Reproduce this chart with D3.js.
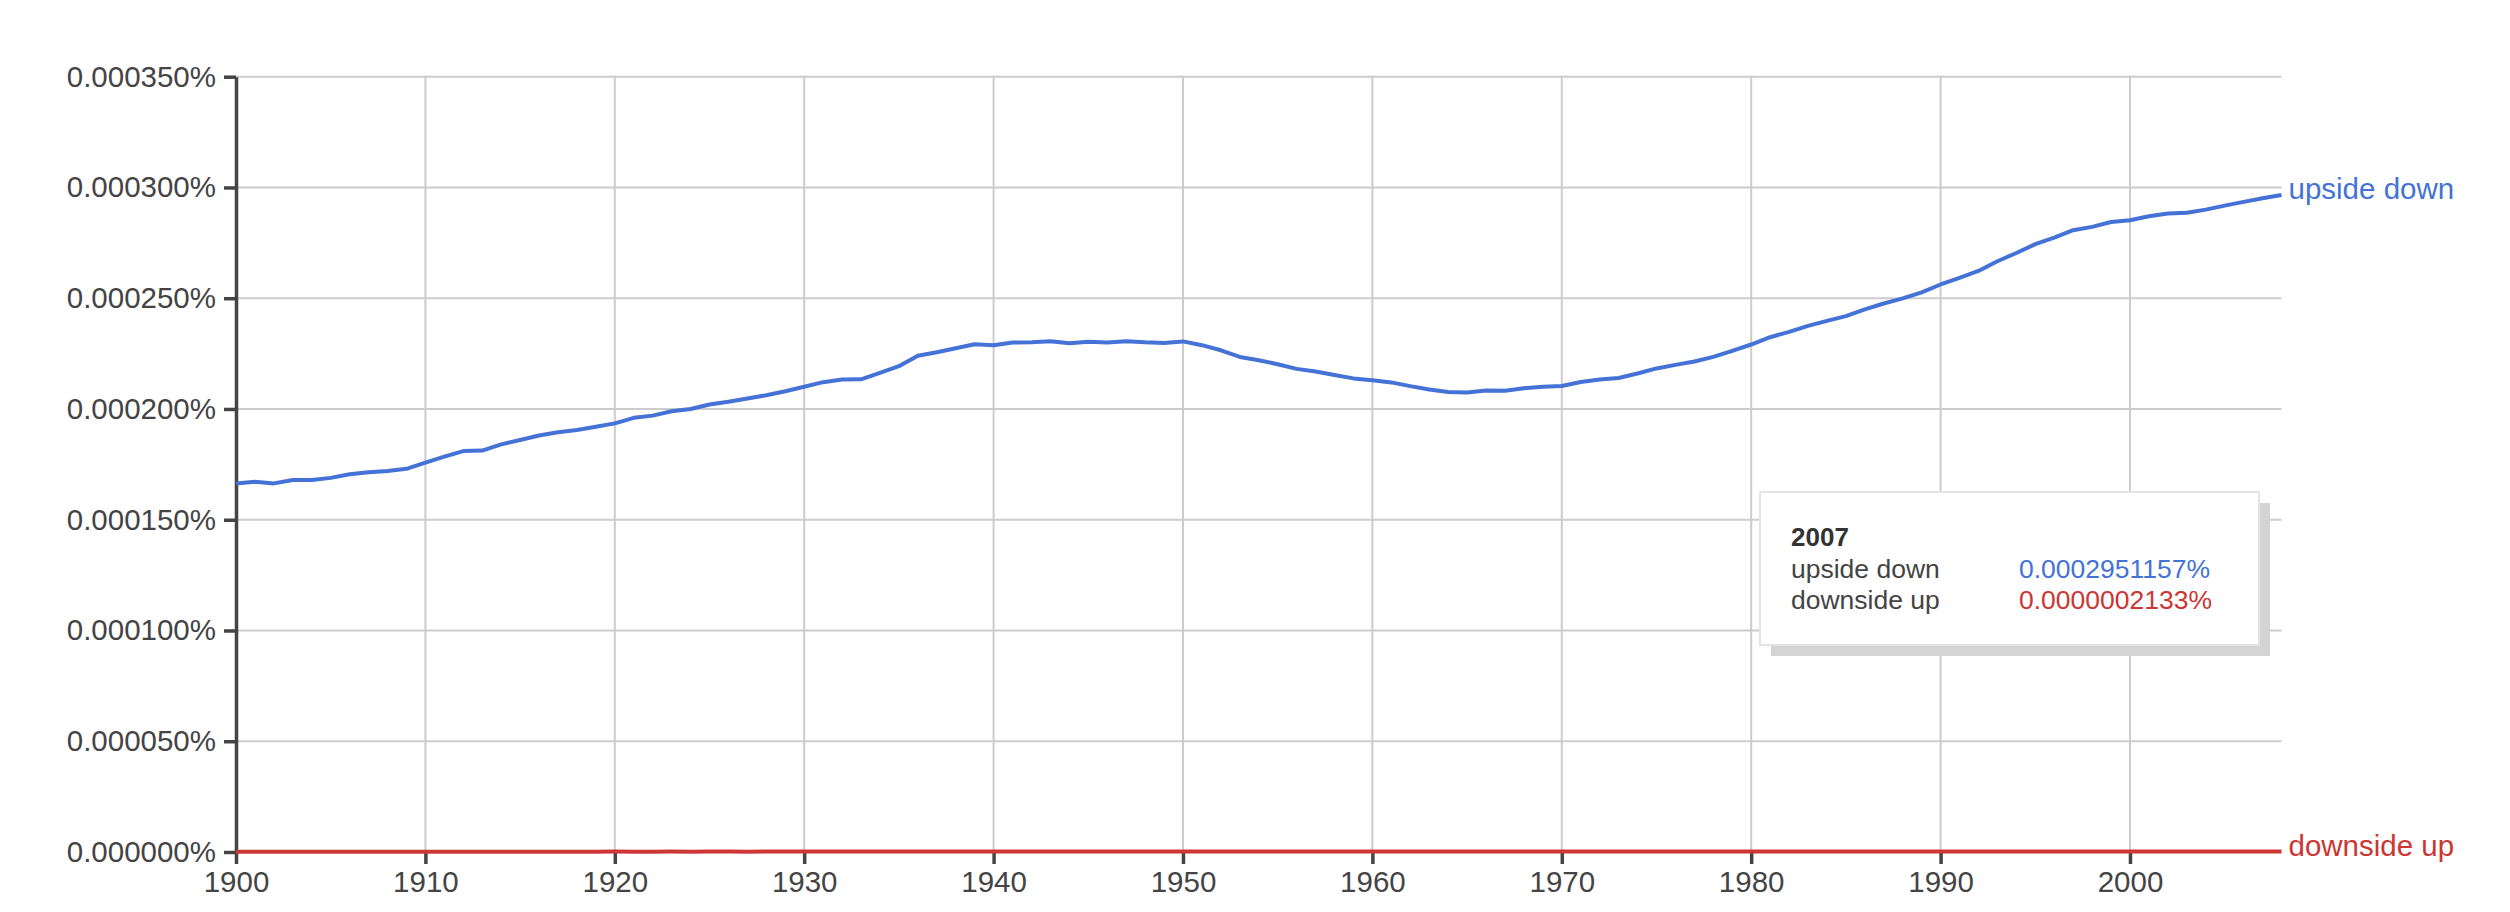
<!DOCTYPE html>
<html>
<head>
	<meta charset="utf-8">
	<title>upside down / downside up</title>
	<script src="https://d3js.org/d3.v7.min.js"></script>
	<style>
		body { margin: 0; background: #fff; }
		text { font-family: Arial, "Liberation Sans", sans-serif; }
	</style>
</head>
<body>
	<script>
		// years on the x axis
		var years = d3.range(1900, 2009);
		var xTicks = [1900, 1910, 1920, 1930, 1940, 1950, 1960, 1970, 1980, 1990, 2000];
		var yTicks = [0, 0.00005, 0.0001, 0.00015, 0.0002, 0.00025, 0.0003, 0.00035];

		// frequency in percent, one value per year 1900..2008
		var upsideDown = [
			0.0001664, 0.0001671, 0.0001664, 0.0001679, 0.0001679, 0.0001689, 0.0001705, 0.0001714, 0.0001720, 0.0001730,
			0.0001758, 0.0001785, 0.0001810, 0.0001812, 0.0001840, 0.0001860, 0.0001880, 0.0001895, 0.0001905, 0.0001920,
			0.0001935, 0.0001960, 0.0001970, 0.0001990, 0.0002000, 0.0002020, 0.0002033, 0.0002047, 0.0002062, 0.0002080,
			0.0002100, 0.0002121, 0.0002133, 0.0002134, 0.0002163, 0.0002193, 0.0002240, 0.0002256, 0.0002274, 0.0002292,
			0.0002288, 0.0002300, 0.0002301, 0.0002306, 0.0002297, 0.0002303, 0.0002300, 0.0002306, 0.0002301, 0.0002298,
			0.0002305, 0.0002288, 0.0002265, 0.0002235, 0.0002220, 0.0002202, 0.0002181, 0.0002169, 0.0002153, 0.0002138,
			0.0002130, 0.0002120, 0.0002103, 0.0002088, 0.0002077, 0.0002074, 0.0002083, 0.0002082, 0.0002094, 0.0002100,
			0.0002104, 0.0002122, 0.0002133, 0.0002140, 0.0002160, 0.0002183, 0.0002199, 0.0002214, 0.0002235, 0.0002262,
			0.0002291, 0.0002324, 0.0002348, 0.0002375, 0.0002398, 0.0002419, 0.0002450, 0.0002476, 0.0002499, 0.0002526,
			0.0002562, 0.0002592, 0.0002623, 0.0002667, 0.0002704, 0.0002744, 0.0002774, 0.0002807, 0.0002822, 0.0002844,
			0.0002852, 0.0002870, 0.0002882, 0.0002886, 0.0002900, 0.0002918, 0.0002935, 0.0002951157, 0.0002966
		];
		var downsideUp = [
			0.00000012, 0.00000011, 0.00000013, 0.00000012, 0.00000014, 0.00000013, 0.00000012, 0.00000014, 0.00000015, 0.00000013,
			0.00000014, 0.00000015, 0.00000013, 0.00000014, 0.00000016, 0.00000015, 0.00000014, 0.00000016, 0.00000015, 0.00000016,
			0.00000017, 0.00000015, 0.00000016, 0.00000017, 0.00000016, 0.00000018, 0.00000017, 0.00000016, 0.00000018, 0.00000017,
			0.00000018, 0.00000017, 0.00000019, 0.00000018, 0.00000017, 0.00000018, 0.00000019, 0.00000018, 0.00000017, 0.00000019,
			0.00000018, 0.00000017, 0.00000018, 0.00000019, 0.00000018, 0.00000017, 0.00000018, 0.00000019, 0.00000018, 0.00000019,
			0.00000018, 0.00000019, 0.00000018, 0.00000017, 0.00000018, 0.00000019, 0.00000018, 0.00000019, 0.00000020, 0.00000019,
			0.00000018, 0.00000019, 0.00000020, 0.00000019, 0.00000018, 0.00000019, 0.00000020, 0.00000019, 0.00000020, 0.00000019,
			0.00000020, 0.00000019, 0.00000020, 0.00000021, 0.00000020, 0.00000019, 0.00000020, 0.00000021, 0.00000020, 0.00000021,
			0.00000020, 0.00000021, 0.00000020, 0.00000021, 0.00000022, 0.00000021, 0.00000020, 0.00000021, 0.00000022, 0.00000021,
			0.00000022, 0.00000021, 0.00000022, 0.00000021, 0.00000022, 0.00000023, 0.00000022, 0.00000021, 0.00000022, 0.00000021,
			0.00000022, 0.00000021, 0.00000022, 0.00000021, 0.00000022, 0.00000021, 0.00000022, 0.0000002133, 0.00000021
		];

		var seriesNames = ["upside down", "downside up"];
		var colors = ["#4472d6", "#cc3633"];
		var hoverYear = 2007;

		var width = 2510, height = 912;
		var svg = d3.select("body").append("svg").attr("width", width).attr("height", height);

		var x = d3.scaleLinear().domain([1900, 2008]).range([236, 2281.5]);
		var y = d3.scaleLinear().domain([0, 0.00035]).range([852, 76.7]);

		// grid
		svg.append("g").selectAll("line.h")
			.data(yTicks).enter().append("line")
			.attr("x1", x(1900)).attr("x2", x(2008))
			.attr("y1", function(d){return y(d);}).attr("y2", function(d){return y(d);})
			.attr("stroke", "#cccccc").attr("stroke-width", 2);
		svg.append("g").selectAll("line.v")
			.data(xTicks.slice(1)).enter().append("line")
			.attr("x1", function(d){return x(d);}).attr("x2", function(d){return x(d);})
			.attr("y1", y(0.00035)).attr("y2", y(0))
			.attr("stroke", "#cccccc").attr("stroke-width", 2);

		// axes
		var yAxis = svg.append("g").attr("transform", "translate(" + x(1900) + ",0)")
			.call(d3.axisLeft(y).tickValues(yTicks).tickSize(12).tickSizeOuter(0).tickPadding(8)
				.tickFormat(function(d){return d.toFixed(6) + "%";}));
		var xAxis = svg.append("g").attr("transform", "translate(0," + y(0) + ")")
			.call(d3.axisBottom(x).tickValues(xTicks).tickSize(12).tickSizeOuter(0).tickPadding(7)
				.tickFormat(function(d){return d;}));
		xAxis.select(".domain").remove();
		[yAxis, xAxis].forEach(function(a){
			a.select(".domain").attr("stroke", "#444").attr("stroke-width", 3.5);
			a.selectAll(".tick line").attr("stroke", "#444").attr("stroke-width", 3.5);
			a.selectAll(".tick text").attr("fill", "#444").style("font-size", "29.5px")
				.style("font-family", "Arial, 'Liberation Sans', sans-serif");
		});

		// lines
		var series = [upsideDown, downsideUp];
		var line = d3.line()
			.x(function(d, i){return x(years[i]);})
			.y(function(d){return y(d);});
		svg.append("g").selectAll("path")
			.data(series).enter().append("path")
			.attr("d", line)
			.attr("fill", "none")
			.attr("stroke", function(d, i){return colors[i];})
			.attr("stroke-width", 4)
			.attr("stroke-linejoin", "round");

		// labels at the right end
		svg.append("g").selectAll("text")
			.data(series).enter().append("text")
			.attr("x", x(2008) + 7)
			.attr("y", function(d){return y(d[d.length - 1]) + 4;})
			.attr("fill", function(d, i){return colors[i];})
			.style("font-size", "29.5px")
			.text(function(d, i){return seriesNames[i];});

		// hover box for 2007
		var idx = years.indexOf(hoverYear);
		var tip = svg.append("g").attr("transform", "translate(1760,492)");
		tip.append("rect").attr("x", 11).attr("y", 11).attr("width", 499).attr("height", 153).attr("fill", "#d4d4d4");
		tip.append("rect").attr("width", 499).attr("height", 153).attr("fill", "#fff")
			.attr("stroke", "#e4e4e4").attr("stroke-width", 2);
		tip.append("text").attr("x", 31).attr("y", 54).attr("fill", "#333")
			.style("font-size", "26px").style("font-weight", "bold").text(hoverYear);
		seriesNames.forEach(function(name, i){
			tip.append("text").attr("x", 31).attr("y", 86 + i * 31).attr("fill", "#444")
				.style("font-size", "26.5px").text(name);
			tip.append("text").attr("x", 259).attr("y", 86 + i * 31).attr("fill", colors[i])
				.style("font-size", "26.5px").text(series[i][idx].toFixed(10) + "%");
		});
	</script>
</body>
</html>
